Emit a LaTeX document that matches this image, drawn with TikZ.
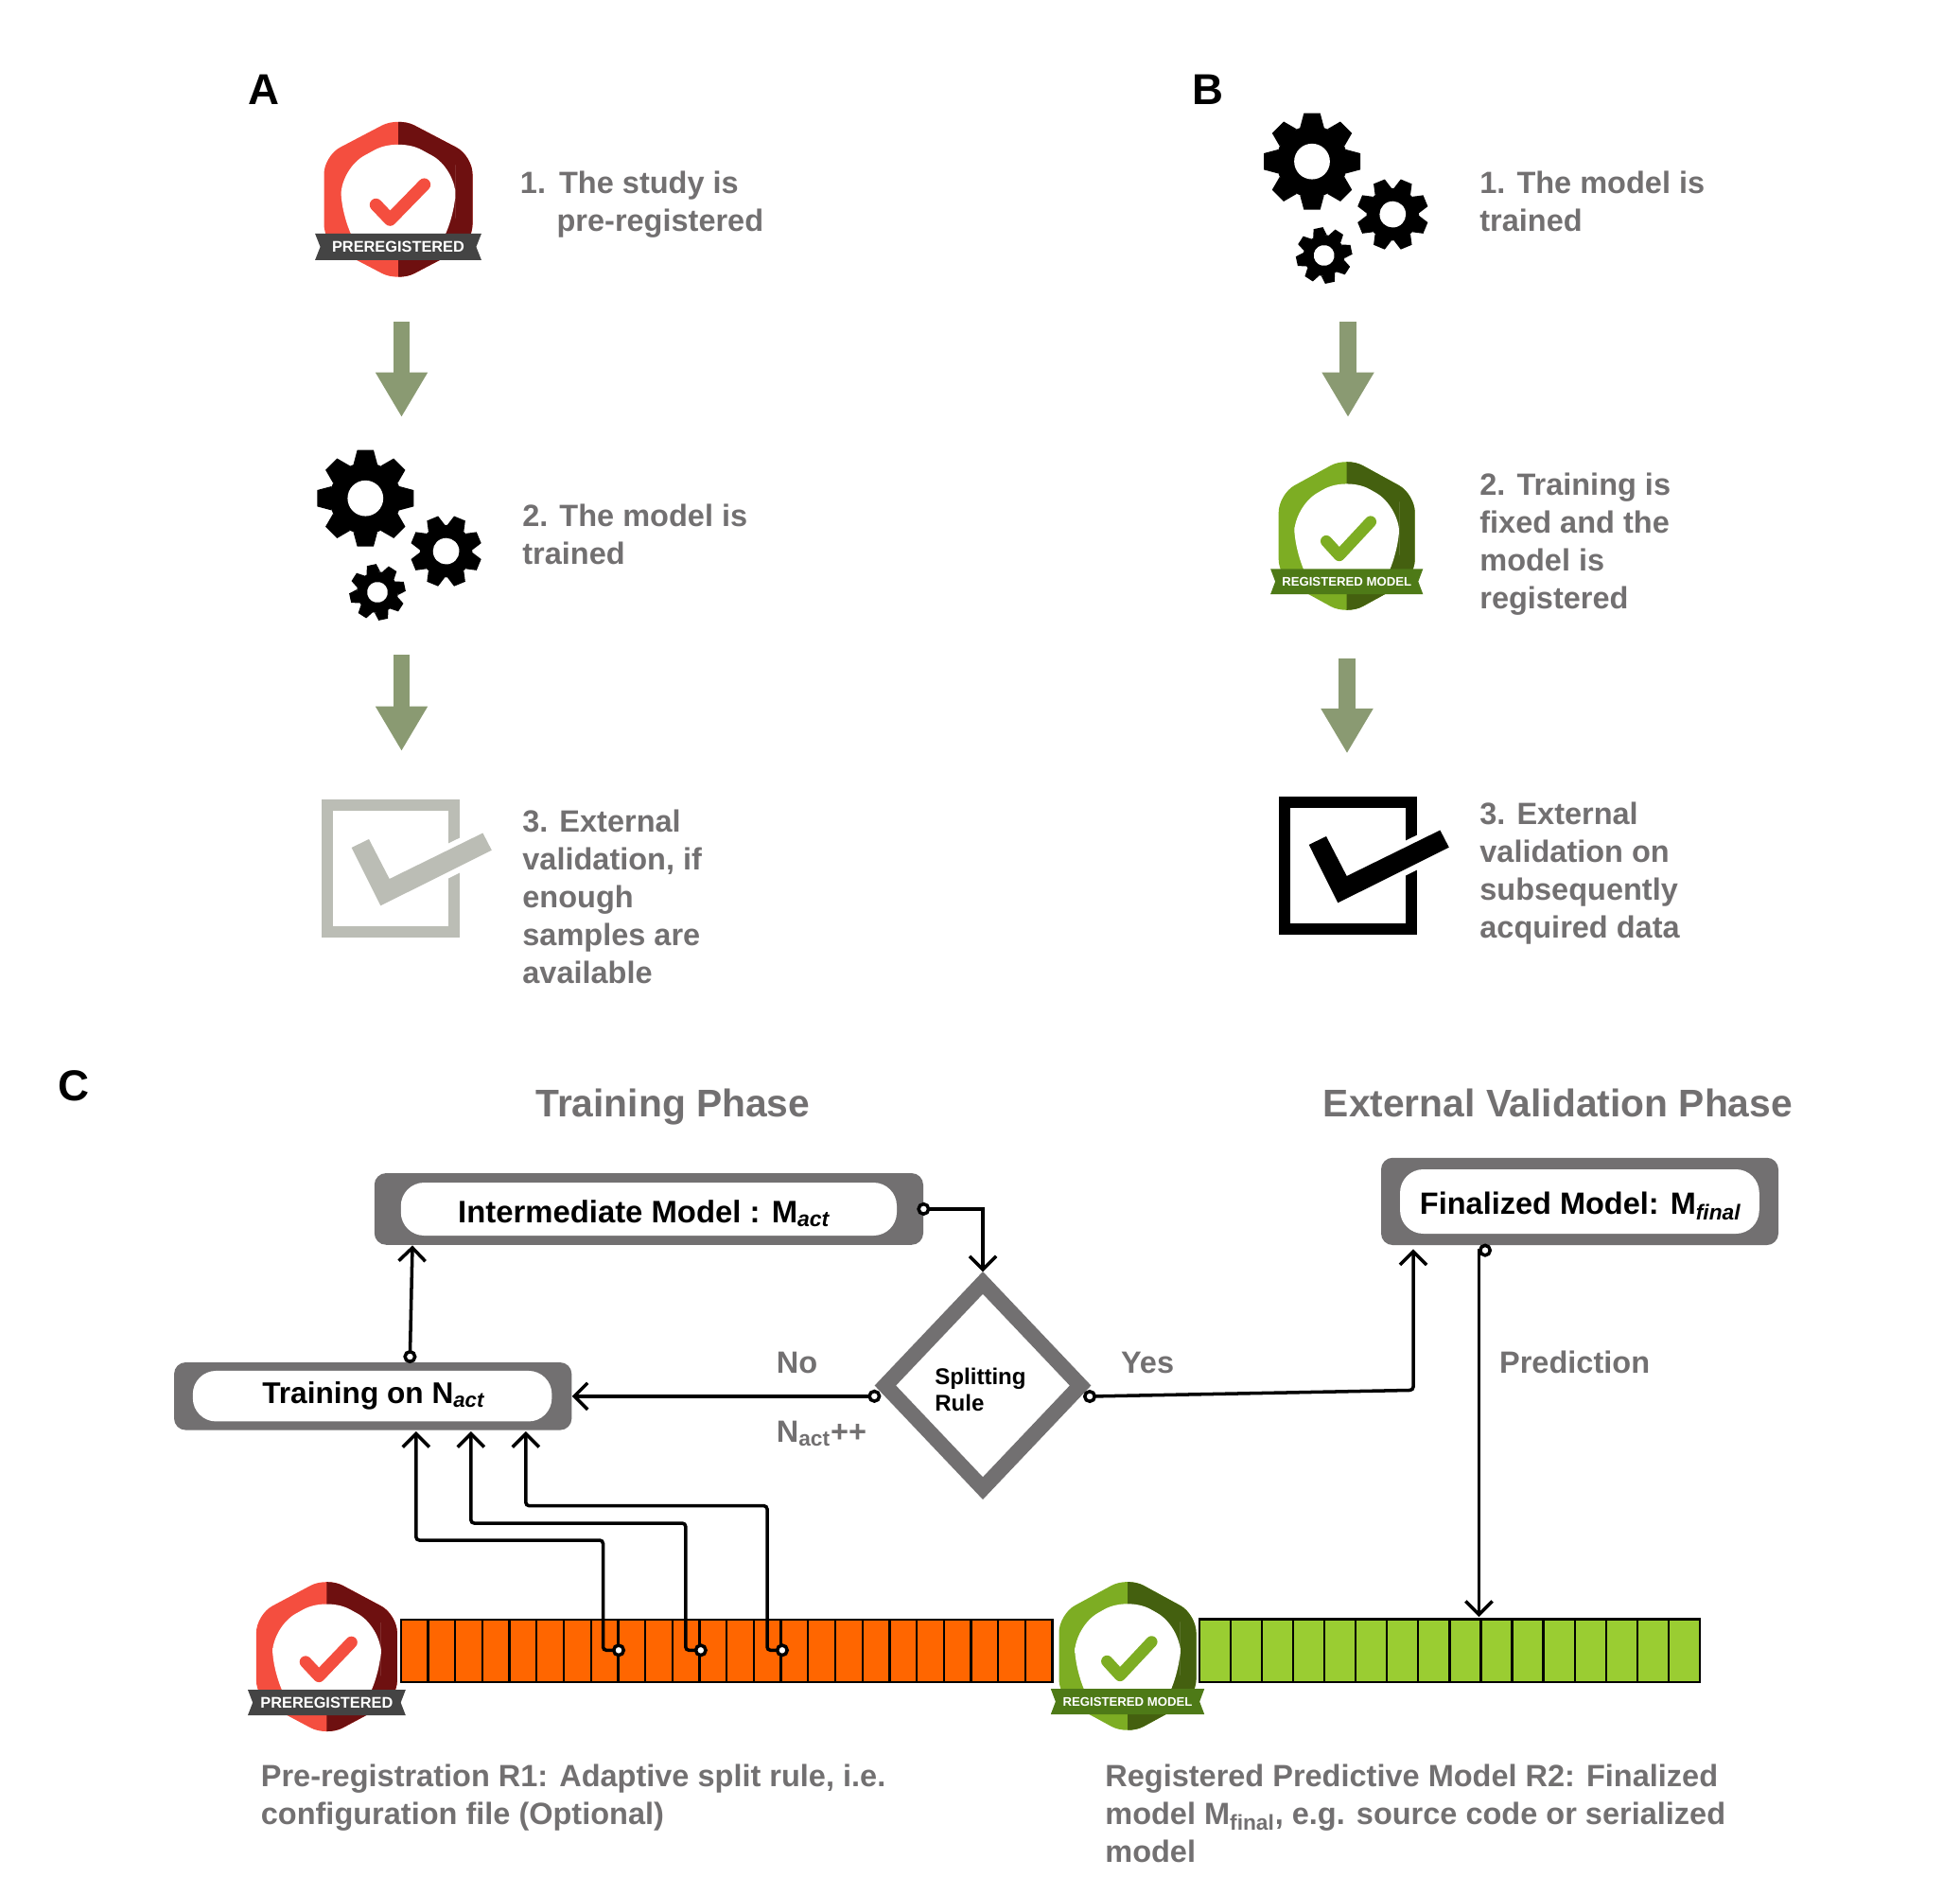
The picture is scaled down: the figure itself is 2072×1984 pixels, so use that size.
\documentclass[tikz,border=0pt]{standalone}
\usepackage{fontspec}
\setmainfont{Liberation Sans}
\usepackage{tikz}
\usetikzlibrary{arrows.meta}
\usetikzlibrary{shapes.geometric}

\definecolor{labelgrey}{HTML}{727071}
\definecolor{redlight}{HTML}{F44E3F}
\definecolor{reddark}{HTML}{6E1010}
\definecolor{redband}{HTML}{444444}
\definecolor{greenlight}{HTML}{7DAD23}
\definecolor{greendark}{HTML}{44600F}
\definecolor{greenband}{HTML}{4E7A17}
\definecolor{flowgreen}{HTML}{8A9A72}
\definecolor{paleticks}{HTML}{BBBDB5}
\definecolor{trainorange}{HTML}{FF6600}
\definecolor{validgreen}{HTML}{9ACD32}

\tikzset{
  steptext/.style={font=\bfseries\fontsize{18.5}{22.7}\selectfont,text=labelgrey,align=left,anchor=base west,inner sep=0pt},
  paneltag/.style={font=\bfseries\fontsize{26}{30}\selectfont,anchor=base west,inner sep=0pt},
  phasetitle/.style={font=\bfseries\fontsize{23.2}{28}\selectfont,text=labelgrey,anchor=base west,inner sep=0pt},
  boxtext/.style={font=\bfseries\fontsize{#1}{21}\selectfont,anchor=base west,inner sep=0pt},
  ruletext/.style={font=\bfseries\fontsize{13.7}{15.6}\selectfont,align=left,anchor=base west,inner sep=0pt},
  outerbox/.style={fill=labelgrey,rounded corners=7pt,inner sep=0pt},
  innerpill/.style={fill=white,rounded corners=14pt,inner sep=0pt},
  flowarrow/.style={draw=flowgreen,line width=10pt,-{Triangle[length=27pt,width=29.5pt]}},
  link/.style={draw=black,line width=2pt,shorten <=-4pt,
    {Circle[open,fill=white,length=8pt,width=8pt]}-{Straight Barb[length=8pt,width=16pt]}},
  ribbon/.style={text=white,font=\bfseries\fontsize{#1}{#1}\selectfont,inner sep=0pt},
}

\newcommand{\pxu}{0.02cm}

% name, x, top, half width, height, colour, font size, ribbon text
\newcommand{\badge}[8]{
  \begin{scope}[shift={(#2,#3)},x={#4*0.02cm},y={-#5*0.02cm},rounded corners=11pt]
    \def\badgeoutline{(1,.5) -- (1,.78) -- (0,1.03) -- (-1,.78) -- (-1,.22) -- (0,-.03) -- (1,.22) -- cycle}
    \fill[#6light] \badgeoutline;
    \begin{scope}
      \clip[sharp corners] (0,-.1) rectangle (1.1,1.1);
      \fill[#6dark] \badgeoutline;
    \end{scope}
    \fill[white,rounded corners=16pt] (.77,.45) -- (.77,.62) -- (.45,.88) -- (-.45,.88) -- (-.77,.62) -- (-.77,.30) -- (0,.10) -- (.77,.30) -- cycle;
    \fill[#6band,sharp corners] (-1.12,.72) -- (1.12,.72) -- (1.05,.805) -- (1.12,.89) -- (-1.12,.89) -- (-1.05,.805) -- cycle;
    \draw[#6light,line width={#4*0.17*0.02cm},line cap=round,line join=round,sharp corners] (-.30,.535) -- (-.11,.63) -- (.35,.405);
    \node[ribbon=#7] (#1) at (0,.805) {#8};
  \end{scope}
}

% x, y, radius, rotation
\newcommand{\gearwheel}[4]{
  \begin{scope}[shift={(#1,#2)},rotate=#4,x={#3*0.02cm},y={#3*0.02cm}]
    \fill (0,0) circle (.74);
    \foreach \a in {0,45,...,315}
      \fill[rotate=\a] (-.25,-.7) -- (-.17,-1) -- (.17,-1) -- (.25,-.7) -- cycle;
    \fill[white] (0,0) circle (.37);
  \end{scope}
}

% x, y offset, colour
\newcommand{\tickbox}[3]{
  \begin{scope}[shift={(#1,#2)}]
    \draw[#3,line width=7pt] (1358,848) rectangle (1492,982);
    \fill[#3,preaction={draw=white,line width=7pt}] (1383.7,892.9) -- (1402,884) -- (1423.7,926) -- (1522.4,877.5) -- (1531.8,895.7) -- (1414.3,954.3) -- cycle;
  \end{scope}
}

\begin{document}
\begin{tikzpicture}[x=0.02cm,y=-0.02cm]
  \useasboundingbox (0,0) rectangle (2072,1984);

  % panel A
  \node[paneltag] (tagA) at (262,111) {A};
  \badge{badgeA}{421}{128.5}{78.5}{164.5}{red}{9.3}{PREREGISTERED}
  \node[steptext] (stepAone) at (549.6,244) {1.\hspace{8pt}The study is\\\hspace{22pt}pre-registered};
  \gearwheel{386.3}{526.7}{51}{0}
  \gearwheel{471.6}{582.6}{37.5}{22.5}
  \gearwheel{399}{626}{29.5}{12}
  \node[steptext] (stepAtwo) at (552,596.5) {2. The model is\\trained};
  \tickbox{-1012}{3}{paleticks}
  \node[steptext] (stepAthree) at (552,1039) {3. External\\validation, if\\enough\\samples are\\available};
  \coordinate (arrowAa) at (424.5,340);
  \coordinate (arrowAb) at (424.5,441);
  \coordinate (arrowAc) at (424.5,692);
  \coordinate (arrowAd) at (424.5,794);
  \draw[flowarrow] (arrowAa) to (arrowAb);
  \draw[flowarrow] (arrowAc) to (arrowAd);

  % panel B
  \node[paneltag] (tagB) at (1260,111) {B};
  \gearwheel{1387}{170.7}{51}{0}
  \gearwheel{1472.3}{226.6}{37.5}{22.5}
  \gearwheel{1399.7}{270}{29.5}{12}
  \node[steptext] (stepBone) at (1564,244) {1. The model is\\trained};
  \badge{badgeB}{1423.7}{487.5}{72}{158}{green}{7.5}{REGISTERED MODEL}
  \node[steptext] (stepBtwo) at (1564,643.5) {2. Training is\\fixed and the\\model is\\registered};
  \tickbox{0}{0}{black}
  \node[steptext] (stepBthree) at (1564,991) {3. External\\validation on\\subsequently\\acquired data};
  \coordinate (arrowBa) at (1425,340);
  \coordinate (arrowBb) at (1425,441);
  \coordinate (arrowBc) at (1424,696.4);
  \coordinate (arrowBd) at (1424,796.4);
  \draw[flowarrow] (arrowBa) to (arrowBb);
  \draw[flowarrow] (arrowBc) to (arrowBd);

  % panel C
  \node[paneltag] (tagC) at (61,1163) {C};
  \node[phasetitle] (trainingTitle) at (566,1180) {Training Phase};
  \node[phasetitle] (validationTitle) at (1398.5,1180) {External Validation Phase};

  \node[outerbox,minimum width=580.2*\pxu,minimum height=75.7*\pxu] (intermediate) at (685.9,1277.9) {};
  \node[innerpill,minimum width=524.2*\pxu,minimum height=56*\pxu] (intermediatePill) at (685.9,1278) {};
  \node[boxtext=18.7] (intermediateText) at (483.8,1292) {Intermediate Model : M\textsubscript{\textit{act}}};

  \node[outerbox,minimum width=420.3*\pxu,minimum height=71.6*\pxu] (training) at (394.2,1475.8) {};
  \node[innerpill,minimum width=379.5*\pxu,minimum height=53.5*\pxu] (trainingPill) at (393.6,1475.7) {};
  \node[boxtext=18] (trainingText) at (277,1483) {Training on N\textsubscript{\textit{act}}};

  \node[outerbox,minimum width=420*\pxu,minimum height=92.3*\pxu] (final) at (1670,1269.9) {};
  \node[innerpill,minimum width=379.7*\pxu,minimum height=68*\pxu] (finalPill) at (1669.9,1270) {};
  \node[boxtext=18.5] (finalText) at (1500.6,1283.7) {Finalized Model: M\textsubscript{\textit{final}}};

  \node[diamond,draw=labelgrey,line width=9.3pt,minimum width=213*\pxu,minimum height=224*\pxu,inner sep=0pt] (rule) at (1039,1464.5) {};
  \node[ruletext] (ruleText) at (988,1491) {Splitting\\Rule};

  \node[steptext] (noText) at (820.5,1451.5) {No};
  \node[steptext] (stepUpText) at (820.5,1524) {N\textsubscript{act}++};
  \node[steptext] (yesText) at (1184.7,1451) {Yes};
  \node[steptext] (predictionText) at (1584.8,1451) {Prediction};

  % data bars
  \node[draw=black,line width=1.3pt,fill=trainorange,minimum width=688.8*\pxu,minimum height=66.2*\pxu,inner sep=0pt] (trainbar) at (768.2,1744.9) {};
  \foreach \i in {1,...,23}
    \draw[line width=1.3pt] (423.8+\i*28.7,1711.8) -- (423.8+\i*28.7,1778);
  \node[draw=black,line width=1.3pt,fill=validgreen,minimum width=529.3*\pxu,minimum height=66.6*\pxu,inner sep=0pt] (validbar) at (1532.35,1744.7) {};
  \foreach \i in {1,...,15}
    \draw[line width=1.3pt] (1267.7+\i*33.08,1711.4) -- (1267.7+\i*33.08,1778);

  \badge{badgeCa}{345.4}{1671.6}{74.5}{159}{red}{9.3}{PREREGISTERED}
  \badge{badgeCb}{1192}{1671.4}{72.5}{158}{green}{7.5}{REGISTERED MODEL}

  % connectors
  \coordinate (trainOut) at (433.4,1434);
  \coordinate (intermediateIn) at (436,1316.4);
  \draw[link] (trainOut) to (intermediateIn);
  \draw[link] (intermediate.east) -| (rule.north);
  \draw[link] (rule.west |- training.east) -- (training.east);
  \coordinate (yesOut) at (1152,1476);
  \coordinate (yesBend) at (1494,1469.4);
  \coordinate (finalIn) at (1494,1320.4);
  \draw[link,rounded corners=2pt] (yesOut) -- (yesBend) -- (finalIn);
  \coordinate (finalOut) at (1570,1321.6);
  \coordinate (validIn) at (1563.5,1709);
  \draw[link] (finalOut) -| (validIn);
  \foreach \n/\cx/\vx/\hy/\tx in {1/654/637.5/1628/439.8,2/740.8/724.8/1610/497.8,3/826.9/811/1591.6/555.8}{
    \coordinate (split\n) at (\cx,1744.3);
    \coordinate (entry\n) at (\tx,1513);
    \draw[link,rounded corners=2pt] (split\n) -| (\vx,\hy) -| (entry\n);
  }

  % captions
  \node[steptext] (captionLeft) at (275.5,1928) {Pre-registration R1: Adaptive split rule, i.e.\\configuration file (Optional)};
  \node[steptext] (captionRight) at (1168,1968.5) {Registered Predictive Model R2: Finalized\\model M\textsubscript{final}, e.g. source code or serialized\\model};
\end{tikzpicture}
\end{document}
